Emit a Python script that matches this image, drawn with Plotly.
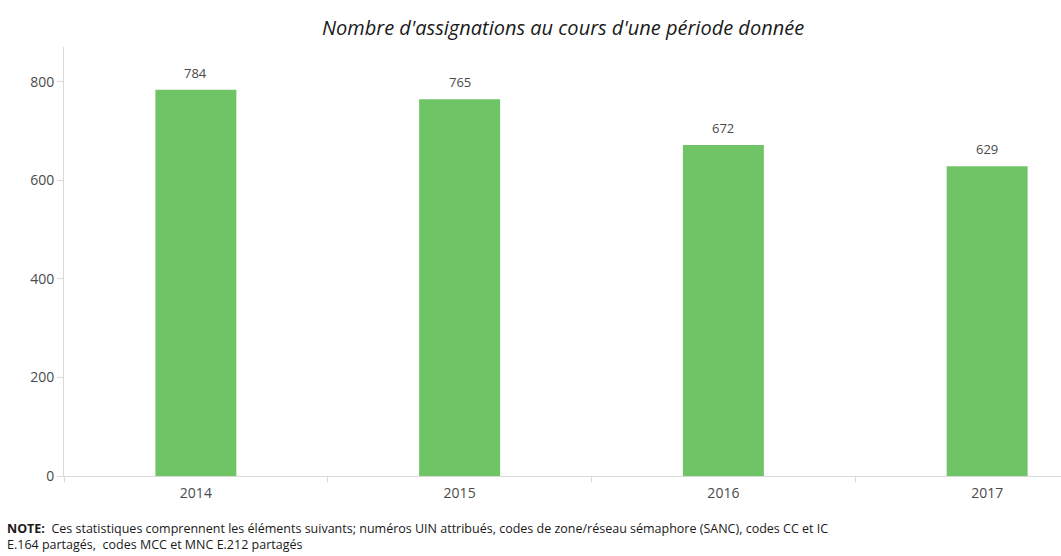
import plotly.graph_objects as go

# Number of assignments per year
years = ["2014", "2015", "2016", "2017"]
assignments = [784, 765, 672, 629]

note_text = (
    "<b>NOTE:</b>  Ces statistiques comprennent les éléments suivants; numéros UIN attribués, "
    "codes de zone/réseau sémaphore (SANC), codes CC et IC<br>"
    "E.164 partagés,  codes MCC et MNC E.212 partagés"
)

bar_color = "#6fc566"
text_color = "#4a4a4a"
axis_color = "#d9d9d9"
font_family = "'Open Sans', Lato, sans-serif"

fig = go.Figure()
fig.add_trace(go.Bar(
    x=years,
    y=assignments,
    width=0.307,
    marker=dict(color=bar_color, line=dict(width=0)),
    hoverinfo="skip",
))

# Value labels above bars (category index used for x on the category axis)
for i, val in enumerate(assignments):
    fig.add_annotation(
        x=i, y=val, text=str(val), showarrow=False,
        xref="x", yref="y",
        yanchor="middle", yshift=17,
        font=dict(family=font_family, size=13, color=text_color),
    )

fig.add_annotation(
    xref="paper", yref="paper", x=0.5005, y=1.0443,
    xanchor="center", yanchor="middle",
    text="<i>Nombre d'assignations au cours d'une période donnée</i>",
    showarrow=False,
    font=dict(family=font_family, size=20, color="#1a1a1a"),
)

# Footnote (two lines)
fig.add_annotation(
    xref="paper", yref="paper", x=-0.0592, y=-0.1415,
    xanchor="left", yanchor="middle", align="left",
    text=note_text, showarrow=False,
    font=dict(family=font_family, size=12.5, color="#1a1a1a"),
)

fig.update_layout(
    width=1061, height=556,
    margin=dict(l=64, r=0, t=47, b=80),
    paper_bgcolor="white", plot_bgcolor="white",
    showlegend=False,
    font=dict(family=font_family, size=14, color=text_color),
    xaxis=dict(
        range=[-0.5, 3.28],
        showline=True, linecolor=axis_color, linewidth=1,
        ticks="outside", tickson="boundaries", ticklen=5, tickcolor=axis_color,
        ticklabelstandoff=4,
        showgrid=False, zeroline=False,
        tickfont=dict(family=font_family, size=14, color=text_color),
    ),
    yaxis=dict(
        range=[0, 871],
        tickvals=[0, 200, 400, 600, 800],
        showline=True, linecolor=axis_color, linewidth=1,
        ticks="outside", ticklen=6, tickcolor=axis_color,
        showgrid=False, zeroline=False,
        tickfont=dict(family=font_family, size=14, color=text_color),
    ),
)

fig.write_html("out.html")
